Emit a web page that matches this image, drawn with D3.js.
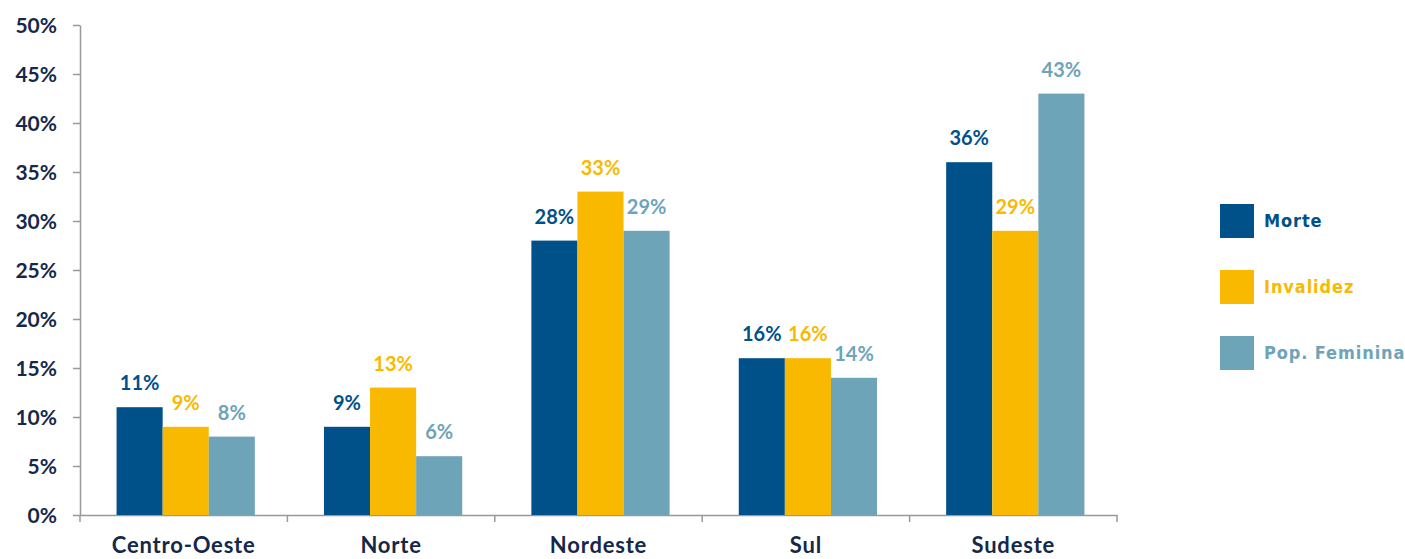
<!DOCTYPE html>
<html>
  <head>
    <meta charset="utf-8">
    <title>Distribuição por região</title>
    <script src="https://cdn.jsdelivr.net/npm/d3@7"></script>
    <style>
      body { margin: 0; background: #fff; }
      text { font-family: Lato, "Open Sans", sans-serif; font-weight: bold; }
    </style>
  </head>
  <body>
    <script>
      var regioes = ["Centro-Oeste", "Norte", "Nordeste", "Sul", "Sudeste"];
      var series = ["Morte", "Invalidez", "Pop. Feminina"];
      var morte = [11, 9, 28, 16, 36];
      var invalidez = [9, 13, 33, 16, 29];
      var popFeminina = [8, 6, 29, 14, 43];
      var yTicks = [0, 5, 10, 15, 20, 25, 30, 35, 40, 45, 50];
      var cores = ["#00518a", "#f9b900", "#6ea4b8"];

      var w = 1405, h = 559;
      var svg = d3.select("body").append("svg")
                  .attr("width", w)
                  .attr("height", h);

      var valores = [morte, invalidez, popFeminina];

      var x = d3.scaleBand().domain(regioes).range([80, 1117]);
      // barras um pouco deslocadas para a direita, como no original
      var xs = d3.scaleBand().domain(series)
                 .range([2, x.bandwidth() + 2])
                 .paddingOuter(0.75).paddingInner(0);
      var y = d3.scaleLinear().domain([0, 50]).range([515, 25]);

      // eixo y
      var gy = svg.append("g").attr("transform", "translate(80,0)")
                  .call(d3.axisLeft(y).tickValues(yTicks)
                          .tickFormat(function(d) { return d + "%"; })
                          .tickSize(7).tickSizeOuter(0).tickPadding(16));
      gy.select(".domain").attr("stroke", "#999").attr("stroke-width", 1.5);
      gy.selectAll(".tick line").attr("stroke", "#999").attr("stroke-width", 1.5);
      gy.selectAll(".tick text").attr("fill", "#16284a")
        .style("font-size", "21px").attr("dy", "0.35em");

      // eixo x
      var gx = svg.append("g").attr("transform", "translate(0,515)")
                  .call(d3.axisBottom(x).tickSize(0).tickPadding(22));
      gx.select(".domain").attr("stroke", "#999").attr("stroke-width", 1.5);
      gx.selectAll(".tick text").attr("fill", "#16284a")
        .style("font-size", "22px").style("letter-spacing", "0.8px");
      var bordas = regioes.map(function(r) { return x(r); }).concat([x.range()[1]]);
      gx.selectAll(".borda").data(bordas).enter().append("line")
        .attr("x1", function(d) { return d; }).attr("x2", function(d) { return d; })
        .attr("y1", 0).attr("y2", 7)
        .attr("stroke", "#999").attr("stroke-width", 1.5);

      // barras
      series.forEach(function(s, si) {
        var g = svg.append("g").attr("fill", cores[si]);
        g.selectAll("rect").data(valores[si]).enter().append("rect")
         .attr("x", function(d, i) { return x(regioes[i]) + xs(s); })
         .attr("y", function(d) { return y(d); })
         .attr("width", xs.bandwidth())
         .attr("height", function(d) { return y(0) - y(d); });
        svg.append("g").selectAll("text").data(valores[si]).enter().append("text")
         .attr("x", function(d, i) { return x(regioes[i]) + xs(s) + xs.bandwidth() / 2; })
         .attr("y", function(d) { return y(d) - 17; })
         .attr("text-anchor", "middle")
         .attr("fill", cores[si])
         .style("font-size", "20px")
         .text(function(d) { return d + "%"; });
      });

      // legenda
      var leg = svg.append("g").selectAll("g").data(series).enter().append("g")
                   .attr("transform", function(d, i) { return "translate(1220," + (204 + i * 66) + ")"; });
      leg.append("rect").attr("width", 34).attr("height", 34)
         .attr("fill", function(d, i) { return cores[i]; });
      leg.append("text").attr("x", 44).attr("y", 17).attr("dy", "0.35em")
         .attr("fill", function(d, i) { return cores[i]; })
         .style("font-family", "'DejaVu Sans Condensed', 'DejaVu Sans', sans-serif")
         .style("font-size", "18px").style("letter-spacing", "0.9px")
         .text(function(d) { return d; });
    </script>
  </body>
</html>
